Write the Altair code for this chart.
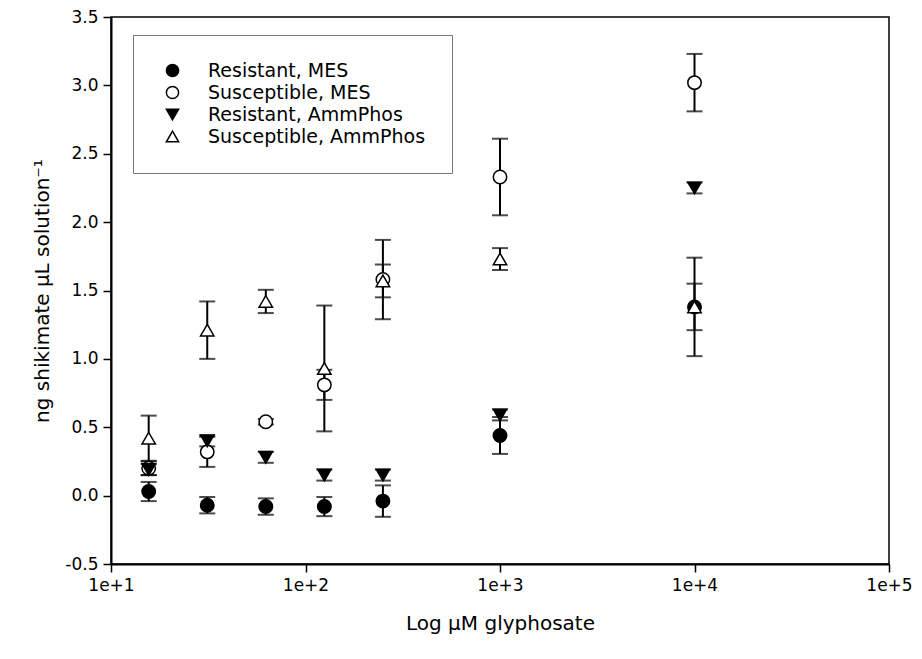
import altair as alt
import pandas as pd

# Glyphosate concentrations (µM)
conc = [15.625, 31.25, 62.5, 125, 250, 1000, 10000]

series_names = [
    "Resistant, MES",
    "Susceptible, MES",
    "Resistant, AmmPhos",
    "Susceptible, AmmPhos",
]

# Mean shikimate (ng per µL solution) and standard errors
res_mes = [0.03, -0.07, -0.08, -0.08, -0.04, 0.44, 1.38]
res_mes_err = [0.07, 0.06, 0.06, 0.07, 0.115, 0.135, 0.36]

sus_mes = [0.20, 0.32, 0.54, 0.81, 1.58, 2.33, 3.02]
sus_mes_err = [0.05, 0.11, 0.02, 0.11, 0.29, 0.28, 0.21]

res_amm = [0.19, 0.40, 0.28, 0.15, 0.15, 0.59, 2.25]
res_amm_err = [0.04, 0.04, 0.04, 0.04, 0.04, 0.04, 0.04]

sus_amm = [0.42, 1.21, 1.42, 0.93, 1.57, 1.73, 1.38]
sus_amm_err = [0.165, 0.21, 0.085, 0.46, 0.12, 0.08, 0.17]

shapes = ["circle", "circle", "triangle-down", "triangle-up"]
fills = ["black", "white", "black", "white"]
strokes = ["black", "black", "black", "black"]

rows = []
for name, vals, errs in zip(
    series_names,
    [res_mes, sus_mes, res_amm, sus_amm],
    [res_mes_err, sus_mes_err, res_amm_err, sus_amm_err],
):
    for c, v, e in zip(conc, vals, errs):
        rows.append({"conc": c, "series": name, "value": v, "lo": v - e, "hi": v + e})
df = pd.DataFrame(rows)

FONT = "DejaVu Sans"

x_axis = alt.Axis(
    values=[10, 100, 1000, 10000, 100000],
    labelExpr="'1e+' + round(log(datum.value) / LN10)",
    labelFlush=False,
    title="Log µM glyphosate",
    titleFontSize=20,
    titlePadding=20,
)
y_axis = alt.Axis(
    values=[-0.5, 0.0, 0.5, 1.0, 1.5, 2.0, 2.5, 3.0, 3.5],
    # plain hyphen for negative labels
    labelExpr="datum.value < 0 ? '-' + format(-datum.value, '.1f') : format(datum.value, '.1f')",
    labelFlush=False,
    title="ng shikimate µL solution⁻¹",
    titleFontSize=20,
    titlePadding=12,
)
x_enc = alt.X("conc:Q", scale=alt.Scale(type="log", domain=[10, 100000]), axis=x_axis)

legend = alt.Legend(
    title=None,
    orient="none",
    legendX=22,
    legendY=18,
    strokeColor="#777777",
    fillColor="white",
    padding=26,
    labelFont=FONT,
    labelFontSize=19,
    labelColor="black",
    labelLimit=400,
    labelOffset=26,
    symbolOffset=4,
    symbolSize=150,
    symbolStrokeWidth=1.5,
    rowPadding=2,
)

base = alt.Chart(df)
y_scale = alt.Scale(domain=[-0.5, 3.5])

bars = base.mark_rule(color="black", strokeWidth=2).encode(
    x=x_enc,
    y=alt.Y("lo:Q", scale=y_scale, axis=y_axis),
    y2="hi:Q",
)
cap_lo = base.mark_tick(orient="horizontal", size=16, thickness=2, color="black").encode(
    x=x_enc,
    y=alt.Y("lo:Q", scale=y_scale, axis=y_axis),
)
cap_hi = base.mark_tick(orient="horizontal", size=16, thickness=2, color="black").encode(
    x=x_enc,
    y=alt.Y("hi:Q", scale=y_scale, axis=y_axis),
)
points = base.mark_point(filled=True, strokeWidth=1.5, opacity=1, size=180).encode(
    x=x_enc,
    y=alt.Y("value:Q", scale=y_scale, axis=y_axis),
    fill=alt.Fill("series:N", scale=alt.Scale(domain=series_names, range=fills), legend=legend),
    stroke=alt.Stroke("series:N", scale=alt.Scale(domain=series_names, range=strokes), legend=legend),
    shape=alt.Shape("series:N", scale=alt.Scale(domain=series_names, range=shapes), legend=legend),
)

chart = (
    alt.layer(bars, cap_lo, cap_hi, points)
    .properties(
        width=778,
        height=547,
        autosize=alt.AutoSizeParams(type="none"),
        padding={"left": 111, "top": 17, "right": 33, "bottom": 95},
        background="white",
    )
    .configure_view(stroke="black", strokeWidth=1.5)
    .configure_axis(
        grid=False,
        domainColor="black",
        domainWidth=2,
        tickColor="black",
        tickWidth=1.5,
        tickSize=8,
        labelFont=FONT,
        labelFontSize=17,
        labelColor="black",
        labelPadding=5,
        titleFont=FONT,
        titleFontWeight="normal",
        titleColor="black",
    )
)

chart.save("out.html", embed_options={"renderer": "svg", "actions": False})
